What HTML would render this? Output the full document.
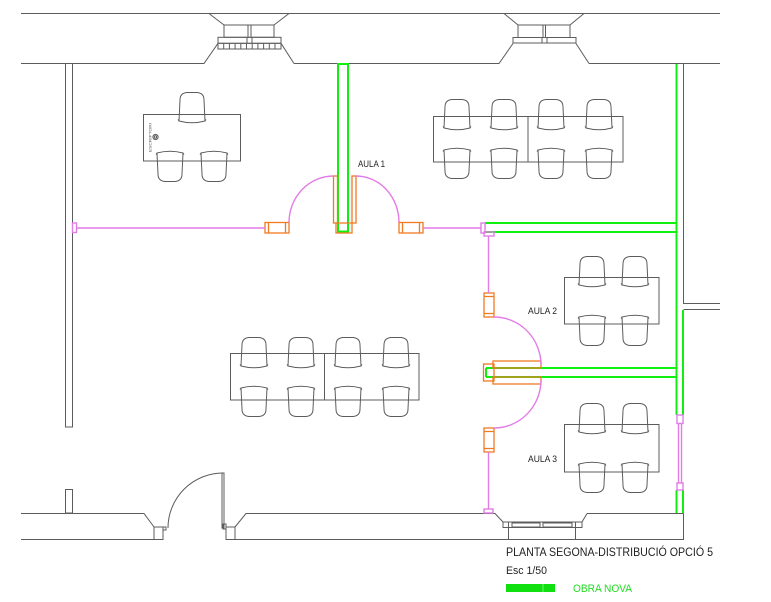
<!DOCTYPE html>
<html><head><meta charset="utf-8"><style>html,body{margin:0;padding:0;background:#fff}svg{display:block}</style></head>
<body>
<svg width="771" height="602" viewBox="0 0 771 602" xmlns="http://www.w3.org/2000/svg">
<defs>
<path id="ch" d="M1,29 L2,8 Q2,1 9,0.5 L19,0.5 Q26,1 26,8 L27,29 Q14,32.5 1,29 Z M0,27.5 L1.2,29.2 M28,27.5 L26.8,29.2"/>
</defs>
<rect width="771" height="602" fill="#fff"/>

<!-- gray architecture -->
<g fill="none" stroke="#5c5c5c" stroke-width="1">
  <path d="M21,13.5 H720"/>
  <path d="M21,63.5 H204 L218,43.3"/>
  <path d="M294,63.5 H499 L513,43.5"/>
  <path d="M294,63.5 L281,43.3"/>
  <path d="M589,63.5 H720"/>
  <path d="M589,63.5 L576,43.5"/>
  <path d="M209,13.5 L224,25 M289,13.5 L274,25 M504,13.5 L518,25 M584,13.5 L570,25"/>
  <!-- top-left window -->
  <rect x="224" y="25" width="50" height="12.3"/>
  <path d="M248,25 V37.3 M251,25 V37.3"/>
  <rect x="218" y="37.3" width="63" height="6"/>
  <path d="M247,37.3 V43.3 M252,37.3 V43.3"/>
  <rect x="218" y="43.3" width="63" height="5.7"/>
  <path d="M223.7,43.3V49 M229.4,43.3V49 M235.1,43.3V49 M240.8,43.3V49 M246.5,43.3V49 M252.2,43.3V49 M257.9,43.3V49 M263.6,43.3V49 M269.3,43.3V49 M275,43.3V49"/>
  <!-- top-right window -->
  <rect x="518" y="25" width="52" height="12.5"/>
  <path d="M543,25 V37.5 M545.5,25 V37.5"/>
  <rect x="513" y="37.5" width="63" height="5.5"/>
  <path d="M542,37.5 V43 M547,37.5 V43"/>
  <!-- left column -->
  <rect x="65.5" y="63.5" width="7" height="363.5"/>
  <rect x="65.5" y="489.5" width="7" height="23.5"/>
  <!-- right wall -->
  <path d="M683.5,63.5 V303.5 H720 M720,309.5 H683.5"/>
  <!-- bottom wall -->
  <path d="M21,513.5 H144 L154,527"/>
  <rect x="154" y="527" width="9" height="12.5"/>
  <rect x="163" y="527" width="3" height="3"/>
  <path d="M21,539.5 H163 M226,539.5 H683.5 V513.5"/>
  <rect x="226" y="527" width="9" height="12.5"/>
  <rect x="223" y="524" width="3" height="5"/>
  <path d="M235,527 L246,513.5 H495 L503,522"/>
  <rect x="503" y="522" width="79" height="5.5"/>
  <path d="M587,513.5 L582,522 M587,513.5 H683.5"/>
  <path d="M508.5,522 V539.5 M575.5,522 V539.5"/>
  <rect x="512" y="523" width="28" height="4"/>
  <rect x="543" y="523" width="29" height="4"/>
  <path d="M168,528 A55,55 0 0 1 223,473"/>
  <rect x="222" y="473" width="2" height="55"/>
</g>

<!-- furniture -->
<g fill="none" stroke="#5c5c5c" stroke-width="1">
  <!-- desk -->
  <rect x="143.5" y="114.5" width="97" height="46.5"/>
  <circle cx="155.5" cy="137" r="2.6"/>
  <circle cx="155.5" cy="137" r="1.2"/>
  <use href="#ch" transform="translate(178,92)"/>
  <use href="#ch" transform="translate(156,182) scale(1,-1)"/>
  <use href="#ch" transform="translate(200,182) scale(1,-1)"/>
  <!-- top-right table -->
  <rect x="433.5" y="116.5" width="189.5" height="45.5"/>
  <path d="M528,116.5 V162"/>
  <use href="#ch" transform="translate(443,99)"/>
  <use href="#ch" transform="translate(490,99)"/>
  <use href="#ch" transform="translate(537,99)"/>
  <use href="#ch" transform="translate(585,99)"/>
  <use href="#ch" transform="translate(443,179) scale(1,-1)"/>
  <use href="#ch" transform="translate(490,179) scale(1,-1)"/>
  <use href="#ch" transform="translate(537,179) scale(1,-1)"/>
  <use href="#ch" transform="translate(585,179) scale(1,-1)"/>
  <!-- center table -->
  <rect x="230.5" y="353.5" width="188.5" height="46.5"/>
  <path d="M324.5,353.5 V400"/>
  <use href="#ch" transform="translate(240,337)"/>
  <use href="#ch" transform="translate(287,337)"/>
  <use href="#ch" transform="translate(334,337)"/>
  <use href="#ch" transform="translate(382,337)"/>
  <use href="#ch" transform="translate(240,417) scale(1,-1)"/>
  <use href="#ch" transform="translate(287,417) scale(1,-1)"/>
  <use href="#ch" transform="translate(334,417) scale(1,-1)"/>
  <use href="#ch" transform="translate(382,417) scale(1,-1)"/>
  <!-- aula 2 -->
  <rect x="564.5" y="277.5" width="94.5" height="46.5"/>
  <use href="#ch" transform="translate(578,256)"/>
  <use href="#ch" transform="translate(621,256)"/>
  <use href="#ch" transform="translate(578,346) scale(1,-1)"/>
  <use href="#ch" transform="translate(621,346) scale(1,-1)"/>
  <!-- aula 3 -->
  <rect x="564.5" y="424.5" width="94.5" height="47.5"/>
  <use href="#ch" transform="translate(578,403)"/>
  <use href="#ch" transform="translate(621,403)"/>
  <use href="#ch" transform="translate(578,493) scale(1,-1)"/>
  <use href="#ch" transform="translate(621,493) scale(1,-1)"/>
</g>

<!-- green new walls -->
<g fill="none" stroke="#10f010" stroke-width="2">
  <rect x="338" y="64" width="10" height="167.5"/>
  <path d="M676.5,64 V415"/>
  <path d="M683,310 V415"/>
  <path d="M676.5,490 V513 M683,490 V513"/>
  <path d="M485,223 H676.5 M485,232 H676.5"/>
  <path d="M486,368 H676.5 M486,377 H676.5 M486,368 V377"/>
</g>

<!-- orange doors -->
<g fill="none" stroke="#f07a22" stroke-width="1.3">
  <rect x="265" y="222.5" width="24" height="10.5"/>
  <path d="M268.5,222.5 V233 M285.5,222.5 V233"/>
  <rect x="399" y="222.5" width="24" height="10.5"/>
  <path d="M402.5,222.5 V233 M419.5,222.5 V233"/>
  <rect x="333.5" y="176" width="4" height="47"/>
  <rect x="352" y="176" width="4" height="47"/>
  <rect x="336" y="223" width="16" height="10"/>
  <rect x="484" y="293" width="10" height="24"/>
  <path d="M484,296.5 H494 M484,313.5 H494"/>
  <rect x="484" y="428" width="10" height="24"/>
  <path d="M484,431.5 H494 M484,448.5 H494"/>
  <rect x="483.5" y="364" width="10.5" height="17"/>
  <rect x="493" y="361" width="48" height="7"/>
  <rect x="493" y="377" width="48" height="7"/>
</g>

<!-- pink -->
<g fill="none" stroke="#e27ce6" stroke-width="1.4">
  <rect x="72.5" y="223" width="4" height="9.5"/>
  <path d="M76.5,228 H265"/>
  <path d="M423,228 H481"/>
  <rect x="481" y="223" width="4" height="10"/>
  <rect x="484" y="232" width="10" height="4"/>
  <path d="M488.5,236 V293 M488.5,452 V509"/>
  <rect x="484" y="509" width="9" height="4"/>
  <path d="M289,222.5 A44.5,46.5 0 0 1 333.5,176"/>
  <path d="M356,176 A43,46.5 0 0 1 399,222.5"/>
  <path d="M494,317 A47,48 0 0 1 541,365"/>
  <path d="M541,380 A47,48 0 0 1 494,428"/>
  <rect x="677" y="415" width="6" height="8.5"/>
  <rect x="677" y="483" width="6" height="7"/>
  <path d="M678.5,423.5 V483 M681.5,423.5 V483"/>
</g>

<!-- labels -->
<g font-family="Liberation Sans, Arial, sans-serif" fill="#222">
  <text x="358" y="167" font-size="9" textLength="27" lengthAdjust="spacingAndGlyphs">AULA 1</text>
  <text x="528" y="314" font-size="9" textLength="29" lengthAdjust="spacingAndGlyphs">AULA 2</text>
  <text x="528" y="462" font-size="9" textLength="29" lengthAdjust="spacingAndGlyphs">AULA 3</text>
  <text x="0" y="0" font-size="4" transform="translate(151.5,152) rotate(-90)" textLength="29" lengthAdjust="spacingAndGlyphs" fill="#555">ESCRIPTORI</text>
  <text x="506" y="556" font-size="11.8" textLength="207" lengthAdjust="spacingAndGlyphs">PLANTA SEGONA-DISTRIBUCIÓ OPCIÓ 5</text>
  <text x="506" y="574" font-size="11" textLength="41" lengthAdjust="spacingAndGlyphs">Esc 1/50</text>
  <text x="573" y="592" font-size="11" textLength="59" lengthAdjust="spacingAndGlyphs" fill="#22dd22">OBRA NOVA</text>
</g>
<rect x="506" y="584" width="49" height="8" fill="#10e010"/>
<path d="M543,584 V592" stroke="#8af58a" stroke-width="0.8"/>
</svg>
</body></html>
